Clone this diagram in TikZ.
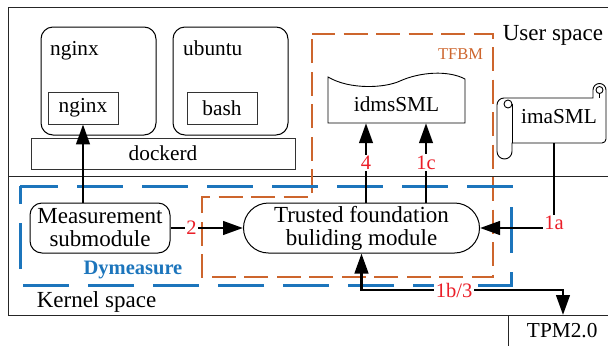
\documentclass[tikz,border=0pt]{standalone}
\usepackage{fontspec}
\setmainfont{Liberation Serif}
\usetikzlibrary{arrows.meta}
\definecolor{tfbmorange}{RGB}{205,101,45}
\definecolor{dymblue}{RGB}{28,117,188}
\definecolor{labred}{RGB}{235,30,40}
\begin{document}
\begin{tikzpicture}[x=1pt,y=-1pt,
  frame/.style={draw=black!85,line width=1pt},
  boxline/.style={draw=black,line width=0.9pt},
  container/.style={draw=black,line width=1pt,rounded corners=12pt,minimum width=115pt,minimum height=108pt},
  plainbox/.style={draw=black!80,line width=0.8pt,minimum height=32pt,inner sep=0pt,font=\fontsize{21.3}{23}\selectfont},
  txt/.style={font=\fontsize{21.3}{23}\selectfont,inner sep=0pt},
  bigtxt/.style={font=\fontsize{23}{23}\selectfont,inner sep=0pt},
  module/.style={draw=black,line width=1pt,fill=white,minimum height=50pt,inner sep=0pt,align=center,font=\fontsize{23}{23}\selectfont},
  flow/.style={line width=2.8pt,-{Triangle[length=20pt,width=13.5pt]}},
  twoway/.style={line width=2.8pt,{Triangle[length=20pt,width=13.5pt]}-{Triangle[length=20pt,width=13.5pt]}},
  redlab/.style={text=labred,fill=white,font=\fontsize{20.5}{22}\selectfont,inner sep=1.5pt},
  tfbmline/.style={draw=tfbmorange,line width=2.7pt,dash pattern=on 24pt off 8.5pt,dash phase=1pt},
  dymline/.style={draw=dymblue,line width=3pt,dash pattern=on 46pt off 19pt,dash phase=8pt},
]
\useasboundingbox (0,0) rectangle (608,346);

% user space / kernel space frame
\draw[frame] (608,7) -- (8,7) -- (8,315) -- (608,315);
\draw[frame] (8,176) -- (608,176);

% containers on top of dockerd
\node[container] (nginxc) at (98.5,81) {};
\node[txt,anchor=base west] (nginxlab) at (50,55) {nginx};
\node[container] (ubuntuc) at (230.5,81) {};
\node[txt,anchor=base west] (ubuntulab) at (183,55) {ubuntu};
\node[plainbox,minimum width=70pt] (nginxi) at (83,108) {nginx};
\node[plainbox,minimum width=70pt] (bash) at (222,108) {bash};
\node[plainbox,minimum width=264pt,minimum height=31pt] (dockerd) at (163,153.5) {dockerd};

% dashed module regions
\draw[tfbmline] (312,34) -- (493,34) -- (493,277) -- (202,277) -- (202,197) -- (312,197) -- cycle;
\node[font=\fontsize{16.5}{18}\selectfont,text=tfbmorange,anchor=base,inner sep=0pt] (tfbmlab) at (460.5,59) {TFBM};
\draw[dymline] (20,186) -- (511,186) -- (511,285) -- (20,285) -- cycle;
\node[font=\fontsize{20.5}{22}\bfseries\selectfont,text=dymblue,anchor=base,inner sep=0pt] (dymlab) at (133,274) {Dymeasure};

% idmsSML: document with a wavy top edge
\draw[boxline] (328,77) .. controls (350,90) and (385,88) .. (400,81)
  .. controls (420,72) and (448,70) .. (465,79) -- (465,123) -- (328,123) -- cycle;
\node[txt,minimum height=37pt,minimum width=137pt] (idms) at (396.5,104.5) {idmsSML};

% imaSML: horizontal scroll
\draw[boxline] (504,98) -- (593,98) -- (593,90)
  .. controls (593,86.4) and (595.9,83.5) .. (599.5,83.5)
  .. controls (603.1,83.5) and (606,86.4) .. (606,90)
  -- (606,139) .. controls (606,141.2) and (604.2,143) .. (602,143)
  -- (512,143) -- (512,151.5)
  .. controls (512,155.6) and (508.6,159) .. (504.5,159)
  .. controls (500.4,159) and (497,155.6) .. (497,151.5)
  -- (497,105) .. controls (497,101.1) and (500.1,98) .. (504,98) -- cycle;
\draw[boxline] (508,104) circle[radius=4];
\draw[boxline] (512,104) -- (512,143);
\draw[boxline] (599.5,90) circle[radius=3.5];
\draw[boxline] (599.5,93.5) -- (599.5,98);
\node[txt,minimum height=52pt,minimum width=94pt] (ima) at (559,117) {imaSML};

% kernel modules
\node[module,rounded corners=12pt,minimum width=140pt] (meas) at (100,228) {Measurement\\submodule};
\node[module,rounded corners=25pt,minimum width=236pt] (tfb) at (361.5,228) {Trusted foundation\\buliding module};

% TPM
\node[txt,anchor=north west,minimum width=108pt,minimum height=31pt] (tpm) at (508,315) {TPM2.0};
\draw[frame] (tpm.north west) -- (tpm.south west);

% labels of the two spaces
\node[bigtxt,anchor=base] (userlab) at (553,40) {User space};
\node[bigtxt,anchor=base] (kernellab) at (96.5,307) {Kernel space};

% connectors
\coordinate (x4) at (366,0);
\coordinate (x1c) at (426,0);
\coordinate (x1a) at (554,0);
\coordinate (b13) at (563,290);
\draw[flow] (nginxi.south |- meas.north) -- (nginxi.south);
\draw[flow] (meas.east) -- node[redlab,pos=0.29] {2} (tfb.west);
\draw[flow] (x4 |- tfb.north) -- node[redlab] {4} (x4 |- idms.south);
\draw[flow] (x1c |- tfb.north) -- node[redlab] {1c} (x1c |- idms.south);
\draw[flow] (x1a |- ima.south) |- node[redlab,pos=0.47] {1a} (tfb.east);
\draw[twoway] (tfb.south) |- node[redlab,pos=0.73] {1b/3} (b13) -- (b13 |- tpm.north);
\end{tikzpicture}
\end{document}
